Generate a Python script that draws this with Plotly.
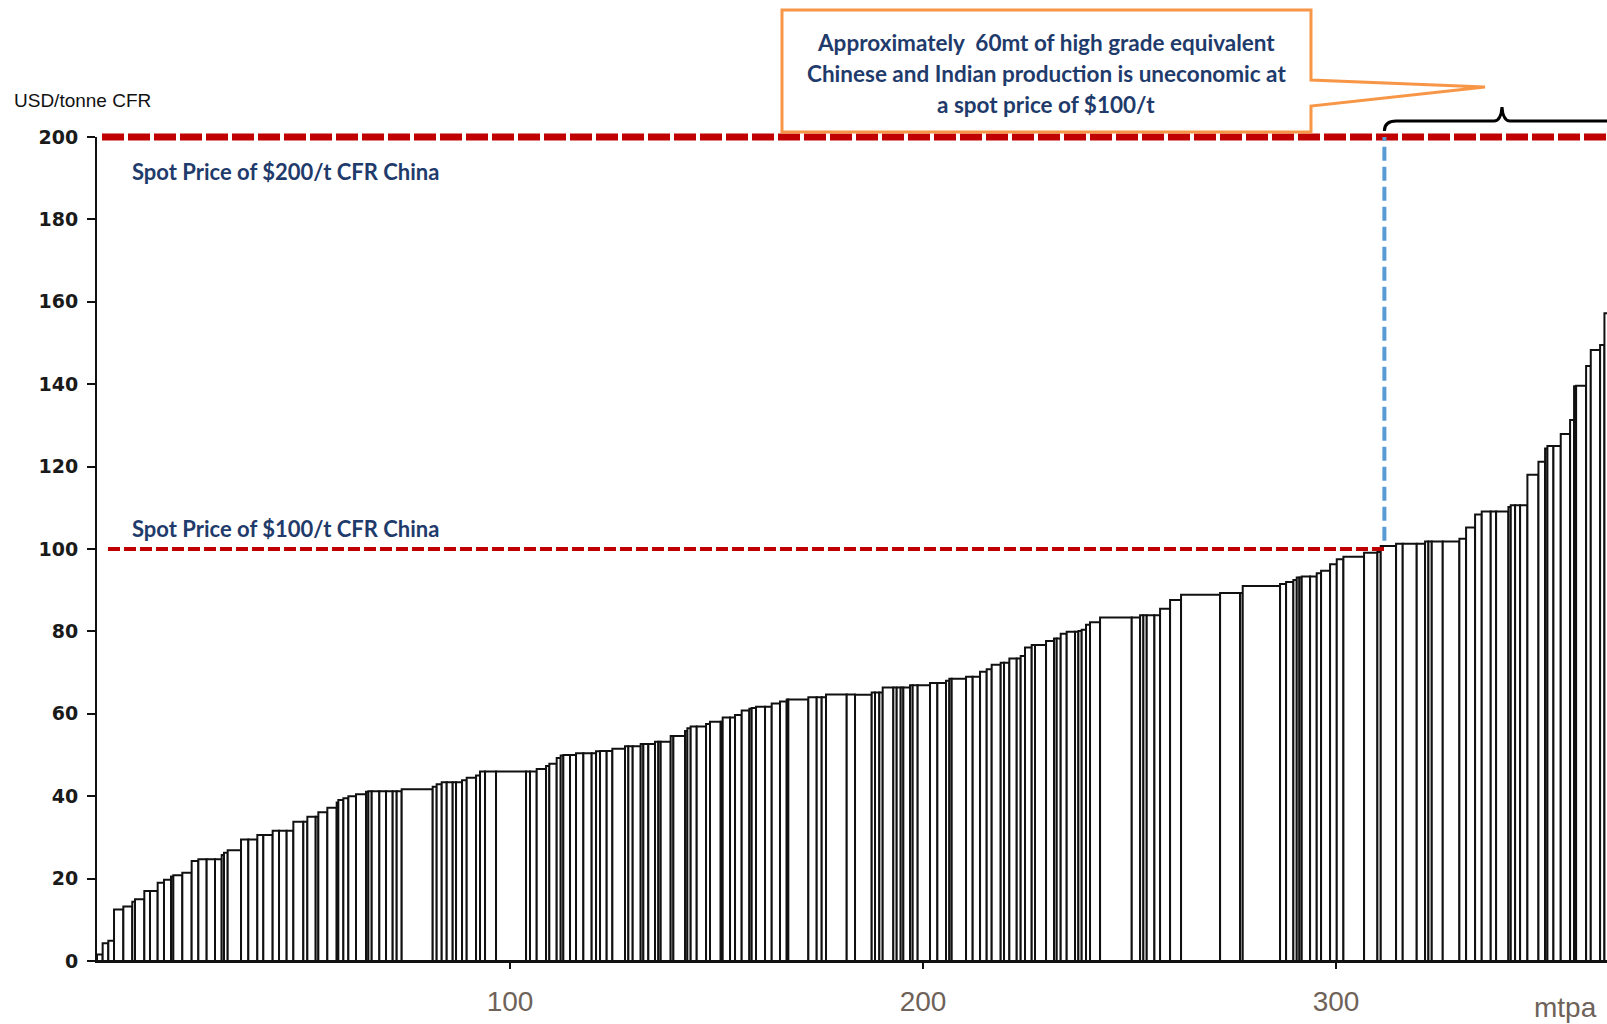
import numpy as np
import plotly.graph_objects as go

# ---------------- data ----------------
# capacity of each producer (mtpa) and its CFR China cost (USD/t)
capacity_mtpa = [
    1.37, 1.37, 1.38, 2.26, 2.17, 0.65, 2.26, 1.37, 1.86, 1.53,
    1.70, 0.56, 2.18, 2.26, 1.62, 2.01, 2.02, 1.62, 0.56, 0.89,
    3.23, 1.77, 2.18, 1.45, 2.26, 1.54, 1.85, 1.62, 2.42, 0.97,
    2.02, 0.64, 2.18, 2.26, 0.40, 1.22, 1.21, 1.85, 2.42,
    0.57, 0.81, 1.85, 1.62, 1.61, 0.97, 1.21, 7.51, 0.96, 1.22,
    1.21, 1.45, 0.81, 1.45, 1.13, 2.26, 0.97, 1.21, 2.66, 7.27,
    0.96, 1.62, 2.26, 0.80, 1.78, 0.97, 0.64, 1.62, 1.45, 1.78,
    2.01, 1.06, 0.96, 1.61,
    1.38, 3.06, 0.81, 1.05, 1.94, 0.64, 1.21, 1.62, 0.80, 0.57,
    2.42, 0.65, 2.82, 0.57, 0.80, 1.46, 2.26, 0.96, 2.59, 0.48,
    1.78, 1.21, 1.61, 1.86, 0.56, 1.05, 2.18, 1.62, 2.01, 1.62,
    0.40, 4.84, 2.02, 1.21, 1.05, 5.01, 2.01,
    4.04, 0.80, 1.05, 0.81, 2.58, 0.81, 0.97, 0.64, 1.62, 0.64,
    1.21, 2.99, 1.78, 2.09, 0.81, 0.57, 3.47, 1.61, 1.78, 1.61,
    1.21, 2.18, 0.81, 1.29, 1.78, 0.96, 1.05, 1.62, 0.80, 2.67,
    1.93, 0.65, 0.97, 1.45, 2.02, 0.81, 0.80, 1.05, 0.97, 2.43,
    7.67, 2.02, 0.80, 0.81, 1.86, 1.37, 2.42, 2.66, 9.45, 4.84,
    0.64, 9.04, 1.46, 1.77, 0.81, 0.65, 0.56, 2.02, 1.61, 1.05,
    2.18, 1.62, 1.61,
    5.00, 3.23, 0.81, 3.71, 1.61, 3.39, 2.02, 0.81, 0.81, 2.66,
    4.03, 1.62, 2.18, 1.61, 2.18, 1.30, 2.98, 0.57, 1.05, 1.21,
    1.77, 2.67, 1.61, 0.56, 1.46, 1.77, 2.26, 0.97, 0.49, 2.42,
    1.13, 2.26, 1.05, 3.02,
]
cost_usd_t = [
    1.6, 4.3, 4.9, 12.5, 13.2, 14.4, 15.0, 17.0, 17.0, 19.0,
    19.7, 20.5, 20.8, 21.4, 24.3, 24.7, 24.7, 24.7, 25.7, 26.3,
    26.9, 29.5, 29.5, 30.6, 30.6, 31.6, 31.6, 31.6, 33.8, 33.8,
    35.0, 35.0, 36.1, 37.2, 38.5, 39.1, 39.5, 40.0, 40.5,
    41.1, 41.2, 41.2, 41.2, 41.2, 41.2, 41.2, 41.7, 42.3, 42.9,
    43.4, 43.4, 43.4, 43.4, 43.9, 44.5, 45.0, 46.0, 46.0, 46.0,
    46.0, 46.0, 46.6, 47.3, 47.9, 49.3, 49.9, 50.0, 50.0, 50.4,
    50.4, 50.4, 50.9, 51.0,
    51.0, 51.5, 52.1, 52.1, 52.1, 52.7, 52.7, 52.7, 53.2, 53.2,
    53.2, 54.6, 54.6, 55.8, 56.5, 56.9, 56.9, 57.5, 58.1, 58.1,
    59.1, 59.1, 59.7, 60.8, 61.2, 61.4, 61.7, 61.7, 62.5, 63.0,
    63.5, 63.5, 64.0, 64.0, 64.0, 64.7, 64.7,
    64.6, 65.2, 65.2, 65.2, 66.4, 66.4, 66.4, 66.4, 66.4, 66.9,
    66.9, 66.9, 67.5, 67.5, 68.0, 68.5, 68.5, 69.0, 69.0, 70.2,
    70.8, 71.9, 72.4, 72.4, 73.4, 73.4, 74.0, 76.1, 76.7, 76.7,
    77.7, 78.3, 78.3, 79.4, 79.9, 79.9, 80.1, 80.4, 81.6, 82.2,
    83.4, 83.4, 83.9, 83.9, 83.9, 83.9, 85.5, 87.6, 88.9, 89.3,
    89.3, 91.0, 91.5, 92.0, 92.5, 93.1, 93.1, 93.3, 93.3, 94.1,
    94.7, 96.3, 97.5,
    98.1, 99.1, 99.3, 100.7, 101.3, 101.3, 101.3, 101.8, 101.8, 101.8,
    101.8, 102.5, 105.2, 108.4, 109.1, 109.1, 109.1, 110.2, 110.6, 110.6,
    110.6, 118.0, 121.2, 124.4, 125.0, 125.0, 127.9, 131.3, 139.5, 139.6,
    144.4, 148.3, 149.5, 157.2,
]

x_tick_values = [100, 200, 300]
y_tick_values = [0, 20, 40, 60, 80, 100, 120, 140, 160, 180, 200]
spot_prices = [200, 100]
spot_labels = ["Spot Price of $200/t CFR China", "Spot Price of $100/t CFR China"]
breakeven_mtpa = 311.7          # cumulative capacity where cost reaches $100/t
x_max = 365.6
y_max = 200

callout_lines = [
    "Approximately  60mt of high grade equivalent",
    "Chinese and Indian production is uneconomic at",
    "a spot price of $100/t",
]

# ---------------- geometry ----------------
# body margin is removed by a post-script, so the figure fills the window
OFF = 0
W, H = 1607, 1024
ML, MR, MT, MB = 97, 0, 137, 63
PW, PH = W - ML - MR, H - MT - MB


def px2x(px):
    """window pixel x -> paper coordinate"""
    return (px - OFF - ML) / PW


def px2y(py):
    """window pixel y -> paper coordinate"""
    return (H - MB - (py - OFF)) / PH


def P(a, b):
    return f"{px2x(a):.5f},{px2y(b):.5f}"


cap = np.array(capacity_mtpa)
right_edges = np.cumsum(cap)
centers = right_edges - cap / 2

fig = go.Figure()
fig.add_trace(go.Bar(
    x=centers, y=cost_usd_t, width=cap,
    marker=dict(color="white", line=dict(color="#111111", width=2)),
    hoverinfo="skip", showlegend=False,
))

RED = "#C00000"
BLUE = "#5B9BD5"
ORANGE = "#F79646"
NAVY = "#1F3B6B"

# $200 spot line (top)
fig.add_shape(type="line", xref="paper", yref="paper",
              x0=px2x(102), x1=1.02, y0=spot_prices[0] / y_max, y1=spot_prices[0] / y_max,
              line=dict(color=RED, width=7, dash="22px,4px"))
# $100 spot line up to the breakeven capacity
fig.add_shape(type="line", xref="paper", yref="paper",
              x0=px2x(108), x1=breakeven_mtpa / x_max,
              y0=spot_prices[1] / y_max, y1=spot_prices[1] / y_max,
              line=dict(color=RED, width=4, dash="12px,4px"))
# vertical blue dashed line
fig.add_shape(type="line", xref="paper", yref="paper",
              x0=breakeven_mtpa / x_max, x1=breakeven_mtpa / x_max,
              y0=(spot_prices[1] + 2) / y_max, y1=spot_prices[0] / y_max,
              line=dict(color=BLUE, width=4, dash="14px,6px"))

# callout box
pts = [(782, 10), (1311, 10), (1311, 80), (1485, 87), (1311, 106), (1311, 132), (782, 132)]
path = "M " + " L ".join(P(a, b) for a, b in pts) + " Z"
fig.add_shape(type="path", xref="paper", yref="paper", path=path,
              line=dict(color=ORANGE, width=3), fillcolor="white")

# curly brace spanning the uneconomic tonnage
bx0 = breakeven_mtpa / x_max
xs = OFF + ML + bx0 * PW
brace = (f"M {bx0:.5f},{px2y(131):.5f} Q {P(xs, 121)} {P(xs + 12, 121)} "
         f"L {P(1494, 121)} Q {P(1501, 121)} {P(1502, 107)} Q {P(1503, 121)} {P(1510, 121)} "
         f"L {P(1625, 121)}")
fig.add_shape(type="path", xref="paper", yref="paper", path=brace,
              line=dict(color="black", width=3))

# text annotations
label_font = dict(family="Lato", size=22, color=NAVY, weight="bold")
fig.add_annotation(x=px2x(130), y=px2y(171), xref="paper", yref="paper",
                   text=spot_labels[0], showarrow=False, xanchor="left", yanchor="middle",
                   font=label_font)
fig.add_annotation(x=px2x(130), y=px2y(528), xref="paper", yref="paper",
                   text=spot_labels[1], showarrow=False, xanchor="left", yanchor="middle",
                   font=label_font)
for line, yy in zip(callout_lines, [42, 74, 104]):
    fig.add_annotation(x=px2x(1046), y=px2y(yy), xref="paper", yref="paper",
                       text=line, showarrow=False, xanchor="center", yanchor="middle",
                       font=dict(family="Lato", size=22.5, color=NAVY, weight="bold"))

fig.add_annotation(x=px2x(12), y=px2y(100), xref="paper", yref="paper",
                   text="USD/tonne CFR", showarrow=False, xanchor="left", yanchor="middle",
                   font=dict(family="Liberation Sans", size=19, color="#111111"))
fig.add_annotation(x=px2x(1565), y=px2y(1007), xref="paper", yref="paper",
                   text="mtpa", showarrow=False, xanchor="center", yanchor="middle",
                   font=dict(family="Liberation Sans", size=28, color="#6E6259"))

fig.update_xaxes(range=[0, x_max], showgrid=False, zeroline=False,
                 showline=True, linecolor="#111111", linewidth=2,
                 ticks="outside", ticklen=6, tickwidth=2, tickcolor="#111111",
                 tickvals=x_tick_values, ticklabelstandoff=8,
                 tickfont=dict(family="Liberation Sans", size=28, color="#6E6259"))
fig.update_yaxes(range=[0, y_max], showgrid=False, zeroline=False,
                 showline=True, linecolor="#111111", linewidth=2,
                 ticks="outside", ticklen=8, tickwidth=2, tickcolor="#111111",
                 tickvals=y_tick_values, ticklabelstandoff=5,
                 tickfont=dict(family="DejaVu Sans", size=19, color="#1a1a1a", weight="bold"))

fig.update_layout(width=W, height=H, autosize=False,
                  margin=dict(l=ML, r=MR, t=MT, b=MB),
                  plot_bgcolor="white", paper_bgcolor="white",
                  showlegend=False, barmode="overlay", bargap=0)

fig.write_html(
    "out.html",
    config={"displayModeBar": False, "staticPlot": True},
    post_script="document.body.style.margin='0';"
                "document.documentElement.style.overflow='hidden';"
                "document.body.style.overflow='hidden';",
)
